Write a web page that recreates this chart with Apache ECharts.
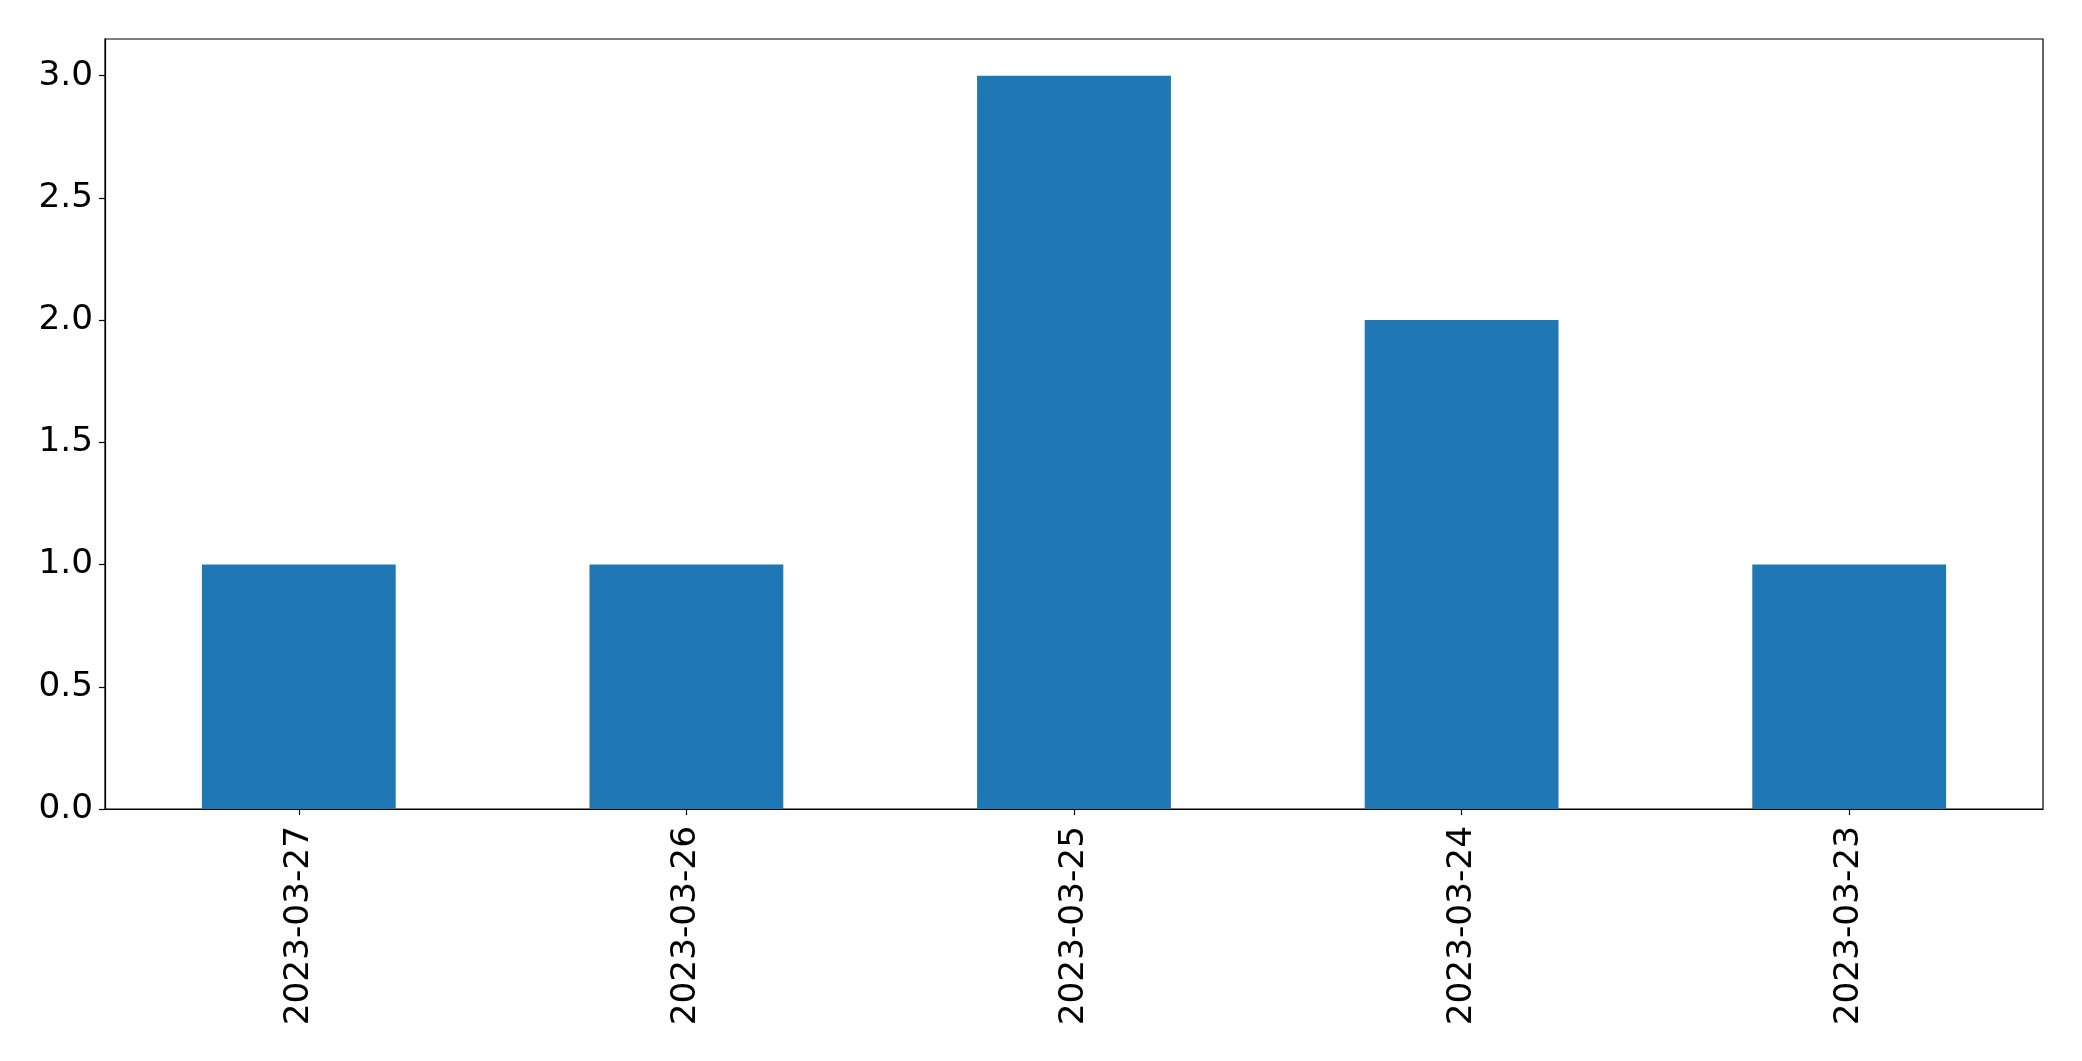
<!DOCTYPE html>
<html>
<head>
<meta charset="utf-8">
<script src="https://cdn.jsdelivr.net/npm/echarts@6/dist/echarts.min.js"></script>
<style>
html,body{margin:0;padding:0;background:#fff;}
#c{width:2082px;height:1061px;}
</style>
</head>
<body>
<div id="c"></div>
<script>
const categories = ['2023-03-27', '2023-03-26', '2023-03-25', '2023-03-24', '2023-03-23'];
const values = [1, 1, 3, 2, 1];
const yTicks = [0, 0.5, 1, 1.5, 2, 2.5, 3];

const chart = echarts.init(document.getElementById('c'), null, {renderer: 'canvas'});
const font = 'DejaVu Sans';
chart.setOption({
  animation: false,
  backgroundColor: '#ffffff',
  grid: {left: 105, right: 39, top: 39, bottom: 252, show: true, borderColor: '#000', borderWidth: 1.2, backgroundColor: 'transparent'},
  xAxis: {
    type: 'category',
    data: categories,
    boundaryGap: true,
    axisLine: {show: true, lineStyle: {color: '#000', width: 1.2}},
    axisTick: {show: true, alignWithLabel: true, length: 6, lineStyle: {color: '#000', width: 1.2}},
    axisLabel: {rotate: 90, margin: 17, color: '#000', fontSize: 34.3, fontFamily: font},
    splitLine: {show: false}
  },
  yAxis: {
    type: 'value',
    min: 0,
    max: 3.15,
    axisLine: {show: true, lineStyle: {color: '#000', width: 1.2}},
    axisTick: {show: true, length: 6, customValues: yTicks, lineStyle: {color: '#000', width: 1.2}},
    axisLabel: {customValues: yTicks, margin: 12, color: '#000', fontSize: 34.3, fontFamily: font,
      formatter: v => v.toFixed(1)},
    splitLine: {show: false}
  },
  series: [{
    type: 'bar',
    data: values,
    barWidth: '50%',
    itemStyle: {color: '#1f77b4'}
  }]
});
</script>
</body>
</html>
